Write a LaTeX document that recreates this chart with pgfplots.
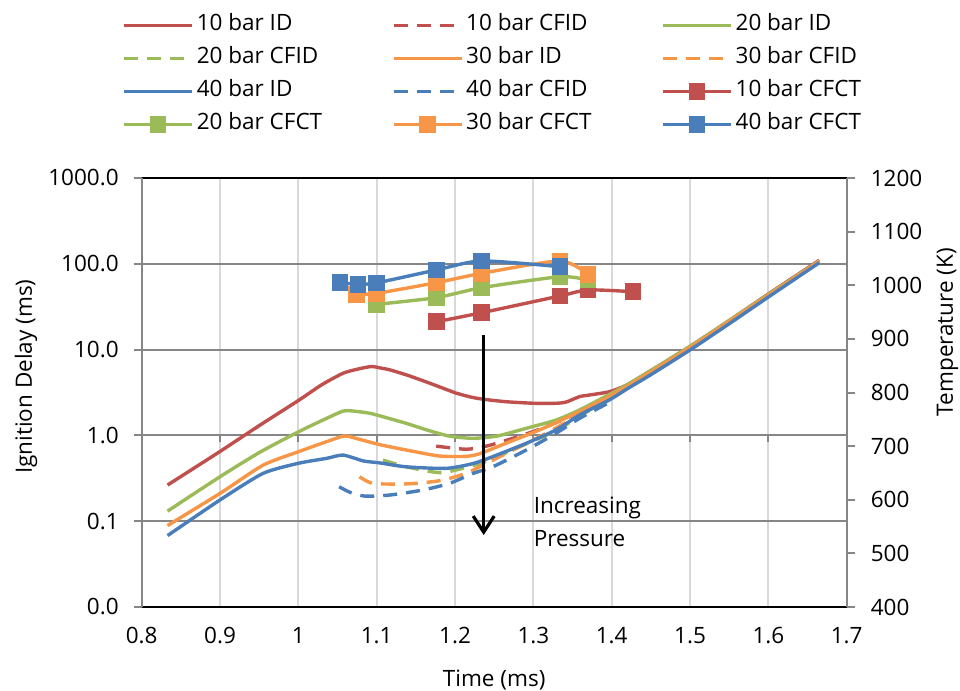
\documentclass[border=0pt]{standalone}
\usepackage{pgfplots}
\pgfplotsset{compat=1.18}
\usepackage{fontspec}
\setmainfont{Open Sans}
\usetikzlibrary{arrows.meta}

\definecolor{cred}{RGB}{192,80,77}
\definecolor{cgreen}{RGB}{155,187,89}
\definecolor{corange}{RGB}{247,150,70}
\definecolor{cblue}{RGB}{74,126,187}
\definecolor{gridv}{RGB}{217,217,217}
\definecolor{gridh}{RGB}{134,134,134}

\newcommand{\legtxt}[1]{\makebox[96pt][l]{#1}}

\pgfplotsset{
  idline/.style={line width=1.7pt, smooth, tension=0.4, no markers},
  cfline/.style={line width=1.7pt, smooth, tension=0.4, no markers, dash pattern=on 7pt off 4.5pt},
  ctline/.style={line width=1.7pt, smooth, tension=0.4, mark=square*, mark size=3.3pt, mark options={solid}},
}

\begin{document}
\begin{tikzpicture}
\useasboundingbox (-70.85pt,-42pt) rectangle (409.15pt,303.5pt);
\begin{axis}[
  at={(0pt,0pt)}, anchor=south west,
  scale only axis, width=352.5pt, height=214.5pt,
  xmin=0.8, xmax=1.7, ymin=0.01, ymax=1000, ymode=log,
  font=\fontsize{11.25}{13.5}\selectfont,
  xtick={0.8,0.9,1.0,1.1,1.2,1.3,1.4,1.5,1.6,1.7},
  xticklabels={0.8,0.9,1,1.1,1.2,1.3,1.4,1.5,1.6,1.7},
  xticklabel style={yshift=-2.5pt},
  ytick={0.01,0.1,1,10,100,1000},
  yticklabels={0.0,0.1,1.0,10.0,100.0,1000.0},
  yticklabel style={xshift=-4pt},
  yminorticks=false,
  xmajorgrids, ymajorgrids,
  x grid style={gridv, line width=1pt},
  y grid style={gridh, line width=1pt},
  separate axis lines,
  x axis line style={black, line width=1.1pt},
  y axis line style={gridh, line width=1pt},
  xtick style={draw=none},
  ytick style={gridh, line width=1pt},
  tick align=outside, major tick length=4pt,
  ytick pos=left, xtick pos=bottom,
  xlabel={Time (ms)}, ylabel={Ignition Delay (ms)},
  xlabel style={at={(axis description cs:0.5,-0.170)}, anchor=center},
  ylabel style={at={(axis description cs:-0.1641,0.537)}, anchor=center},
  legend columns=3,
  legend cell align=left,
  legend image code/.code={\draw[mark repeat=2,mark phase=2,#1] plot coordinates {(0pt,0pt) (17pt,0pt) (34pt,0pt)};},
  legend style={at={(axis description cs:-0.0279,1.395)}, anchor=north west,
    draw=none, fill=none, inner sep=0pt, column sep=0pt,
    nodes={inner xsep=1.5pt, inner ysep=2pt, text height=9pt, text depth=3.5pt}},
]
% x-axis crossing at 1.0 with downward ticks
\pgfplotsinvokeforeach{0.8,0.9,1.0,1.1,1.2,1.3,1.4,1.5,1.6,1.7}{
  \draw[gridh, line width=1pt] (axis cs:#1,1) -- ++(0pt,-3.5pt);
}

% 10 bar ID
\addplot[idline, cred] coordinates {
(0.833,0.264) (0.9,0.65) (0.95,1.3) (1.0,2.55) (1.03,3.9) (1.057,5.3) (1.075,5.9) (1.093,6.35) (1.105,6.1) (1.117,5.8) (1.14,5.0) (1.168,4.05) (1.19,3.4) (1.202,3.1) (1.22,2.8) (1.236,2.64) (1.265,2.47) (1.30,2.37) (1.33,2.37) (1.342,2.45) (1.359,2.83) (1.372,2.96) (1.397,3.23) (1.419,3.86) (1.45,5.7) (1.5,10.9) (1.55,21.8) (1.6,44.5) (1.665,110)
};
\addlegendentry{\legtxt{10 bar ID}}
% 10 bar CFID
\addplot[cfline, cred] coordinates {
(1.176,0.75) (1.214,0.69) (1.24,0.75) (1.274,0.925) (1.308,1.18) (1.342,1.58) (1.37,2.1) (1.40,2.8)
};
\addlegendentry{\legtxt{10 bar CFID}}
% 20 bar ID
\addplot[idline, cgreen] coordinates {
(0.833,0.131) (0.9,0.33) (0.95,0.63) (1.0,1.1) (1.036,1.58) (1.057,1.92) (1.068,1.93) (1.09,1.82) (1.105,1.68) (1.138,1.38) (1.165,1.15) (1.193,0.98) (1.223,0.925) (1.253,0.98) (1.291,1.21) (1.329,1.51) (1.359,1.98) (1.397,3.0) (1.419,3.86) (1.45,5.7) (1.5,10.9) (1.55,21.8) (1.6,44) (1.665,108)
};
\addlegendentry{\legtxt{20 bar ID}}
% 20 bar CFID
\addplot[cfline, cgreen] coordinates {
(1.108,0.516) (1.138,0.43) (1.18,0.368) (1.21,0.413) (1.24,0.5) (1.29,0.79) (1.33,1.15) (1.36,1.7) (1.40,2.7)
};
\addlegendentry{\legtxt{20 bar CFID}}
% 30 bar ID
\addplot[idline, corange] coordinates {
(0.833,0.089) (0.9,0.211) (0.955,0.45) (1.0,0.645) (1.036,0.845) (1.059,0.985) (1.078,0.9) (1.104,0.78) (1.138,0.675) (1.18,0.575) (1.214,0.57) (1.231,0.61) (1.265,0.81) (1.308,1.16) (1.359,1.89) (1.397,2.85) (1.42,3.75) (1.45,5.5) (1.5,10.6) (1.55,21.3) (1.6,43) (1.665,107)
};
\addlegendentry{\legtxt{30 bar ID}}
% 30 bar CFID
\addplot[cfline, corange] coordinates {
(1.078,0.33) (1.095,0.276) (1.138,0.272) (1.18,0.296) (1.214,0.361) (1.24,0.473) (1.274,0.676) (1.308,0.966) (1.351,1.58) (1.38,2.2) (1.40,2.7)
};
\addlegendentry{\legtxt{30 bar CFID}}
% 40 bar ID
\addplot[idline, cblue] coordinates {
(0.833,0.068) (0.9,0.177) (0.955,0.361) (1.0,0.473) (1.036,0.54) (1.057,0.59) (1.083,0.504) (1.104,0.478) (1.138,0.43) (1.189,0.413) (1.223,0.47) (1.248,0.565) (1.291,0.81) (1.329,1.16) (1.359,1.73) (1.397,2.59) (1.42,3.5) (1.45,5.1) (1.5,9.9) (1.55,20) (1.6,41) (1.665,103)
};
\addlegendentry{\legtxt{40 bar ID}}
% 40 bar CFID
\addplot[cfline, cblue] coordinates {
(1.052,0.252) (1.066,0.217) (1.085,0.196) (1.117,0.202) (1.159,0.231) (1.193,0.276) (1.223,0.361) (1.248,0.43) (1.291,0.676) (1.329,1.06) (1.359,1.58) (1.40,2.5)
};
\addlegendentry{\legtxt{40 bar CFID}}
% CFCT
\addplot[ctline, cred] coordinates {
(1.176,21.1) (1.234,26.9) (1.334,42.2) (1.37,49.6) (1.427,47.3)
};
\addlegendentry{\legtxt{10 bar CFCT}}
\addplot[ctline, cgreen] coordinates {
(1.1,33.7) (1.176,40.3) (1.234,52.7) (1.334,70.7) (1.37,64.7)
};
\addlegendentry{\legtxt{20 bar CFCT}}
\addplot[ctline, corange] coordinates {
(1.074,44) (1.1,45.3) (1.176,60.2) (1.234,77.5) (1.334,108) (1.37,75.5)
};
\addlegendentry{\legtxt{30 bar CFCT}}
\addplot[ctline, cblue] coordinates {
(1.053,60.2) (1.076,57.7) (1.1,60) (1.176,84.7) (1.234,108) (1.334,92.5)
};
\addlegendentry{\legtxt{40 bar CFCT}}

\draw[black, line width=1.6pt, -{Straight Barb[length=8pt,width=10.5pt]}] (axis cs:1.2366,14.8) -- (axis cs:1.2366,0.069);
\node[anchor=west, align=left, inner sep=0pt, font=\fontsize{11.25}{16.5}\selectfont] at (axis cs:1.30,0.098) {Increasing\\Pressure};
\end{axis}

\begin{axis}[
  at={(0pt,0pt)}, anchor=south west,
  scale only axis, width=352.5pt, height=214.5pt,
  xmin=0.8, xmax=1.7, ymin=400, ymax=1200,
  font=\fontsize{11.25}{13.5}\selectfont,
  axis x line=none, axis y line*=right,
  ytick={400,500,600,700,800,900,1000,1100,1200},
  yticklabels={400,500,600,700,800,900,1000,1100,1200},
  yticklabel style={xshift=4.5pt},
  y axis line style={gridh, line width=1pt, -},
  ytick style={gridh, line width=1pt},
  tick align=outside, major tick length=4pt,
  ylabel={Temperature (K)},
  ylabel style={at={(axis description cs:1.143,0.641)}, anchor=center},
]
\end{axis}
\end{tikzpicture}
\end{document}
